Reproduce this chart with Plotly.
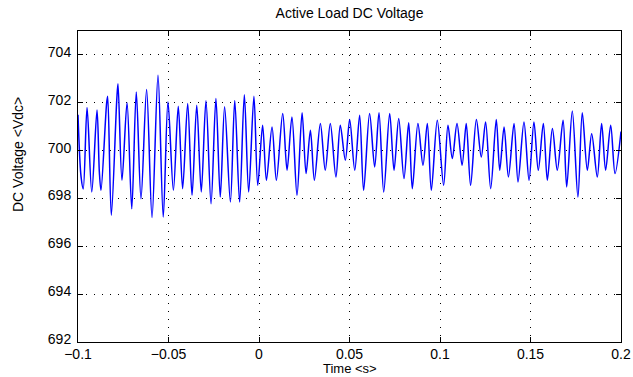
import plotly.graph_objects as go

# Simulated DC-link voltage of the active load: local peaks and troughs of the waveform
time_s = [
    -0.1000, -0.0983, -0.0971, -0.0950, -0.0924, -0.0895, -0.0882, -0.0873,
    -0.0842, -0.0836, -0.0816, -0.0786, -0.0779, -0.0757, -0.0729, -0.0703,
    -0.0678, -0.0652, -0.0621, -0.0591, -0.0558, -0.0529, -0.0503, -0.0473,
    -0.0446, -0.0422, -0.0394, -0.0370, -0.0344, -0.0319, -0.0293, -0.0265,
    -0.0238, -0.0214, -0.0190, -0.0158, -0.0134, -0.0107, -0.0081, -0.0057,
    -0.0028, -0.0007, 0.0020, 0.0041, 0.0072, 0.0096, 0.0131, 0.0155,
    0.0182, 0.0210, 0.0238, 0.0260, 0.0284, 0.0306, 0.0339, 0.0366,
    0.0394, 0.0425, 0.0449, 0.0477, 0.0501, 0.0529, 0.0556, 0.0578,
    0.0611, 0.0639, 0.0663, 0.0689, 0.0722, 0.0746, 0.0772, 0.0801,
    0.0827, 0.0847, 0.0878, 0.0906, 0.0930, 0.0952, 0.0985, 0.1020,
    0.1044, 0.1068, 0.1094, 0.1122, 0.1145, 0.1169, 0.1201, 0.1228,
    0.1252, 0.1280, 0.1311, 0.1330, 0.1354, 0.1378, 0.1409, 0.1431,
    0.1464, 0.1492, 0.1519, 0.1543, 0.1571, 0.1593, 0.1621, 0.1648,
    0.1680, 0.1700, 0.1731, 0.1762, 0.1786, 0.1814, 0.1838, 0.1869,
    0.1893, 0.1915, 0.1943, 0.1967, 0.2000,
]
vdc = [
    701.50, 698.90, 698.40, 701.80, 698.27, 701.70, 699.10, 698.34,
    701.97, 702.27, 697.30, 702.10, 702.80, 698.76, 702.00, 697.57,
    702.45, 697.99, 702.55, 697.20, 703.15, 697.22, 702.04, 698.34,
    701.85, 698.41, 701.97, 698.13, 701.90, 698.27, 702.08, 697.78,
    702.18, 698.06, 701.83, 697.85, 702.10, 697.85, 702.34, 698.27,
    702.27, 698.55, 701.06, 698.76, 700.99, 698.76, 701.55, 699.18,
    701.41, 698.13, 701.58, 699.04, 700.85, 698.76, 701.13, 699.18,
    701.13, 698.90, 701.06, 699.60, 701.30, 699.18, 701.48, 698.34,
    701.55, 699.32, 701.58, 698.27, 701.55, 699.18, 701.34, 698.83,
    701.16, 698.41, 701.13, 699.39, 701.13, 698.34, 701.27, 698.55,
    701.06, 699.67, 701.13, 699.39, 701.13, 698.55, 701.30, 699.73,
    701.20, 698.41, 701.30, 699.18, 700.99, 698.90, 701.13, 698.69,
    701.20, 698.76, 701.20, 699.18, 701.13, 698.76, 700.92, 699.18,
    701.27, 698.48, 701.66, 698.06, 701.58, 699.18, 700.71, 698.90,
    701.13, 699.18, 701.06, 699.04, 700.80,
]

x_ticks = [-0.1, -0.05, 0, 0.05, 0.1, 0.15, 0.2]
x_tick_labels = ["\u22120.1", "\u22120.05", "0", "0.05", "0.1", "0.15", "0.2"]
y_ticks = [692, 694, 696, 698, 700, 702, 704]
y_tick_labels = ["692", "694", "696", "698", "700", "702", "704"]

font_family = "Liberation Sans, Arial, Helvetica, sans-serif"

W, H = 633, 377
M_L, M_R, M_T, M_B = 78, 12, 31, 35
plot_w = W - M_L - M_R
plot_h = H - M_T - M_B

fig = go.Figure(
    go.Scatter(
        x=time_s,
        y=vdc,
        mode="lines",
        line=dict(color="#0000ff", width=1.5, shape="spline", smoothing=0.9),
        showlegend=False,
    )
)

axis_common = dict(
    automargin=False,
    showline=True,
    linecolor="black",
    linewidth=1,
    mirror="allticks",
    ticks="inside",
    ticklen=5,
    tickcolor="black",
    showgrid=True,
    gridcolor="black",
    gridwidth=1,
    griddash="1px,7px",
    zeroline=False,
)

fig.update_xaxes(
    range=[-0.1, 0.2],
    tickmode="array",
    tickvals=x_ticks,
    ticktext=x_tick_labels,
    ticklabelstandoff=-1,
    tickfont=dict(family=font_family, size=14, color="black"),
    **axis_common,
)
fig.update_yaxes(
    range=[692, 705],
    tickmode="array",
    tickvals=y_ticks,
    ticktext=y_tick_labels,
    ticklabelstandoff=3,
    ticklabelshift=-3,
    tickfont=dict(family=font_family, size=14, color="black"),
    **axis_common,
)

fig.add_annotation(
    text="Time &lt;s&gt;",
    xref="paper", yref="paper",
    x=0.5, y=-(368 - (H - M_B)) / plot_h,
    xanchor="center", yanchor="middle",
    showarrow=False, font=dict(family=font_family, size=13, color="black"),
)
fig.add_annotation(
    text="DC Voltage &lt;Vdc&gt;",
    xref="paper", yref="paper",
    x=-(M_L - 18) / plot_w, y=(H - M_B - 155) / plot_h,
    xanchor="center", yanchor="middle",
    textangle=-90,
    showarrow=False, font=dict(family=font_family, size=14, color="black"),
)

fig.update_layout(
    width=W,
    height=H,
    margin=dict(l=M_L, r=M_R, t=M_T, b=M_B),
    paper_bgcolor="white",
    plot_bgcolor="white",
    title=dict(
        text="Active Load DC Voltage",
        x=0.5,
        xref="paper",
        y=1 - 13 / H,
        yanchor="middle",
        font=dict(family=font_family, size=14, color="black"),
    ),
)

fig.write_html("out.html")
